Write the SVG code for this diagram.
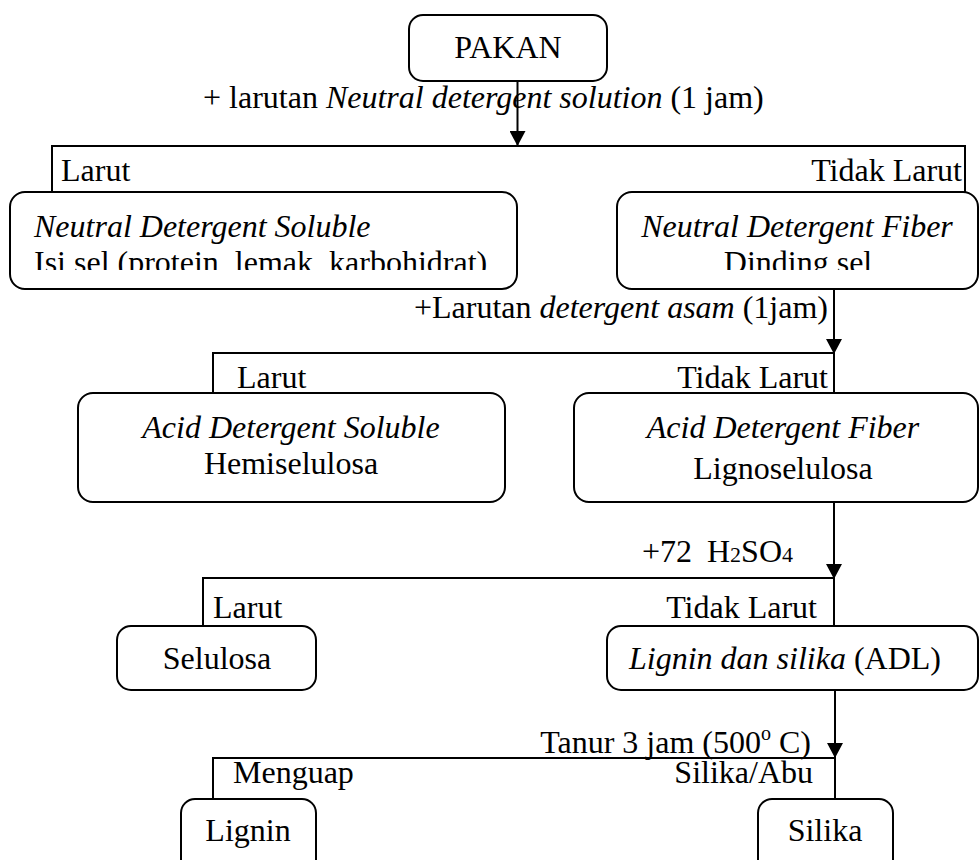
<svg xmlns="http://www.w3.org/2000/svg" width="980" height="860" viewBox="0 0 980 860">
<style>
text{font-family:"Liberation Serif","Times New Roman",serif;font-size:32px;fill:#000}
.i{font-style:italic}
.c{text-anchor:middle}
.e{text-anchor:end}
.box{fill:#fff;stroke:#000;stroke-width:2}
.ln{fill:none;stroke:#000;stroke-width:2}
.arr{fill:none;stroke:#000;stroke-width:2;marker-end:url(#ah)}
</style>
<defs>
<marker id="ah" markerUnits="userSpaceOnUse" markerWidth="15" markerHeight="16" refX="15" refY="8" orient="auto" viewBox="0 0 15 16">
<path d="M0,0 L15,8 L0,16 Z" fill="#000"/>
</marker>
<clipPath id="clipA"><rect x="0" y="190" width="980" height="80"/></clipPath>
</defs>
<g id="connectors">
<line class="arr" x1="517.5" y1="81" x2="517.5" y2="146"/>
<polyline class="ln" points="52,192 52,146 965,146 965,192"/>
<line class="arr" x1="834" y1="289" x2="834" y2="354"/>
<polyline class="ln" points="213,393 213,353 834,353 834,393"/>
<line class="arr" x1="834" y1="502" x2="834" y2="579"/>
<polyline class="ln" points="203,626 203,578 834,578 834,626"/>
<line class="arr" x1="835" y1="690" x2="835" y2="758"/>
<polyline class="ln" points="213,799 213,758 835,758 835,799"/>
</g>
<g id="edge-labels">
<text x="203" y="108">+ larutan <tspan class="i">Neutral detergent solution</tspan> (1 jam)</text>
<text x="61" y="181">Larut</text>
<text class="e" x="962" y="181">Tidak Larut</text>
<text class="e" x="828" y="318">+Larutan <tspan class="i">detergent asam</tspan> (1jam)</text>
<text x="237" y="388">Larut</text>
<text class="e" x="828" y="388">Tidak Larut</text>
<text x="642" y="562">+72<tspan x="707">H</tspan><tspan font-size="22">2</tspan>SO<tspan font-size="22">4</tspan></text>
<text x="213" y="618">Larut</text>
<text class="e" x="817" y="618">Tidak Larut</text>
<text class="e" x="811" y="753">Tanur 3 jam (500<tspan font-size="20" dy="-13">o</tspan><tspan dy="13"> C)</tspan></text>
<text x="233" y="783">Menguap</text>
<text class="e" x="813" y="783">Silika/Abu</text>
</g>
<g id="pakan">
<rect class="box" x="409" y="15" width="198" height="66" rx="14"/>
<text class="c" x="508" y="58">PAKAN</text>
</g>
<g id="nds">
<rect class="box" x="10" y="192" width="507" height="97" rx="15"/>
<g clip-path="url(#clipA)">
<text class="i" x="34" y="237">Neutral Detergent Soluble</text>
<text x="34" y="273">Isi sel (protein, lemak, karbohidrat)</text>
</g>
</g>
<g id="ndf">
<rect class="box" x="617" y="192" width="361" height="97" rx="15"/>
<g clip-path="url(#clipA)">
<text class="c i" x="797" y="237">Neutral Detergent Fiber</text>
<text class="c" x="798" y="273">Dinding sel</text>
</g>
</g>
<g id="ads">
<rect class="box" x="78" y="393" width="427" height="109" rx="15"/>
<text class="c i" x="291" y="438">Acid Detergent Soluble</text>
<text class="c" x="291" y="474">Hemiselulosa</text>
</g>
<g id="adf">
<rect class="box" x="574" y="393" width="404" height="109" rx="15"/>
<text class="c i" x="783" y="438">Acid Detergent Fiber</text>
<text class="c" x="783" y="479">Lignoselulosa</text>
</g>
<g id="selulosa">
<rect class="box" x="117" y="626" width="199" height="64" rx="14"/>
<text class="c" x="217" y="669">Selulosa</text>
</g>
<g id="adl">
<rect class="box" x="607" y="626" width="371" height="64" rx="14"/>
<text class="c" x="785" y="669"><tspan class="i">Lignin dan silika</tspan> (ADL)</text>
</g>
<g id="lignin">
<rect class="box" x="181" y="799" width="135" height="80" rx="14"/>
<text class="c" x="248" y="841">Lignin</text>
</g>
<g id="silika">
<rect class="box" x="758" y="799" width="135" height="80" rx="14"/>
<text class="c" x="825" y="841">Silika</text>
</g>
</svg>
